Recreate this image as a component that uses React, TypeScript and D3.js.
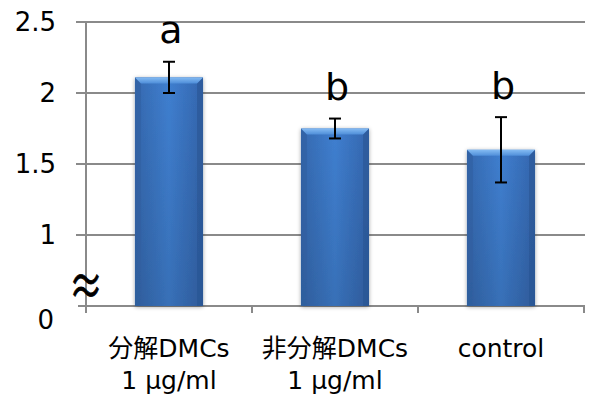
import React from "react";
import * as d3 from "d3";

// Treatments, means, error (±) and significance letters
const categories = [["分解DMCs", "1 μg/ml"], ["非分解DMCs", "1 μg/ml"], ["control"]];
const means = [2.11, 1.75, 1.6];
const errors = [0.11, 0.07, 0.23];
const letters = ["a", "b", "b"];
const yTicks = [1, 1.5, 2, 2.5];
const baseLabel = "0";

const W = 594;
const H = 400;
const FONT = '"DejaVu Sans", "Noto Sans CJK JP", sans-serif';

export default function App() {
  // axis is broken between 0 and 1: the baseline sits one half-step below 1
  const y = d3.scaleLinear().domain([0.5, 2.5]).range([306, 22]);
  const x = d3
    .scaleBand<number>()
    .domain(d3.range(categories.length))
    .range([86, 584])
    .paddingInner(0.59)
    .paddingOuter(0.295);
  const step = x.step();
  const bw = x.bandwidth();
  const y0 = y(0.5);
  const bevel = 6;

  return (
    <svg width={W} height={H} style={{ position: "absolute", left: 0, top: 0, background: "#fff" }}>
      <defs>
        <linearGradient id="barBody" x1="0" y1="0" x2="1" y2="0">
          <stop offset="0" stopColor="#3569b0" />
          <stop offset="0.5" stopColor="#3f7fd0" />
          <stop offset="1" stopColor="#3466ae" />
        </linearGradient>
        <linearGradient id="barTop" x1="0" y1="0" x2="0" y2="1">
          <stop offset="0" stopColor="#84bbf3" />
          <stop offset="1" stopColor="#4f8ed9" />
        </linearGradient>
        <linearGradient id="barShade" x1="0" y1="0" x2="0" y2="1">
          <stop offset="0" stopColor="#000" stopOpacity="0" />
          <stop offset="1" stopColor="#000" stopOpacity="0.12" />
        </linearGradient>
        <filter id="shadow" x="-20%" y="-10%" width="140%" height="120%">
          <feGaussianBlur in="SourceAlpha" stdDeviation="2" />
          <feOffset dx="0" dy="1" result="b" />
          <feComponentTransfer>
            <feFuncA type="linear" slope="0.35" />
          </feComponentTransfer>
          <feMerge>
            <feMergeNode />
            <feMergeNode in="SourceGraphic" />
          </feMerge>
        </filter>
      </defs>

      {/* gridlines with their left ticks */}
      {yTicks.map((t) => (
        <line key={t} x1={76} x2={585} y1={y(t)} y2={y(t)} stroke="#8a8a8a" strokeWidth={2} />
      ))}
      {/* y axis */}
      <line x1={86} x2={86} y1={y(2.5)} y2={y0 + 7} stroke="#8a8a8a" strokeWidth={2} />
      {/* x axis */}
      <line x1={78} x2={585} y1={y0} y2={y0} stroke="#8a8a8a" strokeWidth={2} />
      {d3.range(categories.length + 1).map((i) => (
        <line
          key={i}
          x1={86 + i * step}
          x2={86 + i * step}
          y1={y0}
          y2={y0 + 7}
          stroke="#8a8a8a"
          strokeWidth={2}
        />
      ))}

      {/* bars */}
      {means.map((m, i) => {
        const x0 = x(i)!;
        const top = y(m);
        const h = y0 - top;
        return (
          <g key={i} filter="url(#shadow)">
            <rect x={x0} y={top} width={bw} height={h} fill="url(#barBody)" />
            <rect x={x0} y={top} width={bw} height={h} fill="url(#barShade)" />
            <polygon
              points={`${x0},${top} ${x0 + bevel},${top + bevel} ${x0 + bevel},${y0} ${x0},${y0}`}
              fill="#2f5f9f"
              opacity={0.55}
            />
            <polygon
              points={`${x0 + bw},${top} ${x0 + bw - bevel},${top + bevel} ${x0 + bw - bevel},${y0} ${x0 + bw},${y0}`}
              fill="#2a5593"
              opacity={0.6}
            />
            <polygon
              points={`${x0},${top} ${x0 + bw},${top} ${x0 + bw - bevel},${top + bevel} ${x0 + bevel},${top + bevel}`}
              fill="url(#barTop)"
            />
          </g>
        );
      })}

      {/* error bars and letters */}
      {means.map((m, i) => {
        const cx = x(i)! + bw / 2;
        const hi = y(m + errors[i]);
        const lo = y(m - errors[i]);
        return (
          <g key={i}>
            <line x1={cx} x2={cx} y1={hi} y2={lo} stroke="#000" strokeWidth={2} />
            <line x1={cx - 6} x2={cx + 6} y1={hi} y2={hi} stroke="#000" strokeWidth={2} />
            <line x1={cx - 6} x2={cx + 6} y1={lo} y2={lo} stroke="#000" strokeWidth={2} />
            <text
              x={cx + 2}
              y={y(m + errors[i] + 0.13)}
              textAnchor="middle"
              fontFamily={FONT}
              fontSize={38}
              fill="#000"
            >
              {letters[i]}
            </text>
          </g>
        );
      })}

      {/* y tick labels */}
      {yTicks.map((t) => (
        <text
          key={t}
          x={56}
          y={y(t)}
          dy="0.36em"
          textAnchor="end"
          fontFamily={FONT}
          fontSize={26}
          fill="#000"
        >
          {t}
        </text>
      ))}
      <text x={54} y={y0 + 14} dy="0.36em" textAnchor="end" fontFamily={FONT} fontSize={26} fill="#000">
        {baseLabel}
      </text>
      {/* axis break mark, stretched vertically */}
      <g transform={`translate(86, ${y0 - 19}) scale(1, 1.5)`}>
        <text
          x={0}
          y={0}
          dy="0.36em"
          textAnchor="middle"
          fontFamily='"Noto Sans CJK JP", sans-serif'
          fontSize={34}
          stroke="#000"
          strokeWidth={0.5}
          fill="#000"
        >
          ≈
        </text>
      </g>

      {/* category labels */}
      {categories.map((lines, i) => (
        <text
          key={i}
          x={x(i)! + bw / 2}
          textAnchor="middle"
          fontFamily={FONT}
          fontSize={25}
          fill="#000"
        >
          {lines.map((l, j) => (
            <tspan key={j} x={x(i)! + bw / 2} y={348 + j * 32} dy="0.36em">
              {l}
            </tspan>
          ))}
        </text>
      ))}
    </svg>
  );
}
